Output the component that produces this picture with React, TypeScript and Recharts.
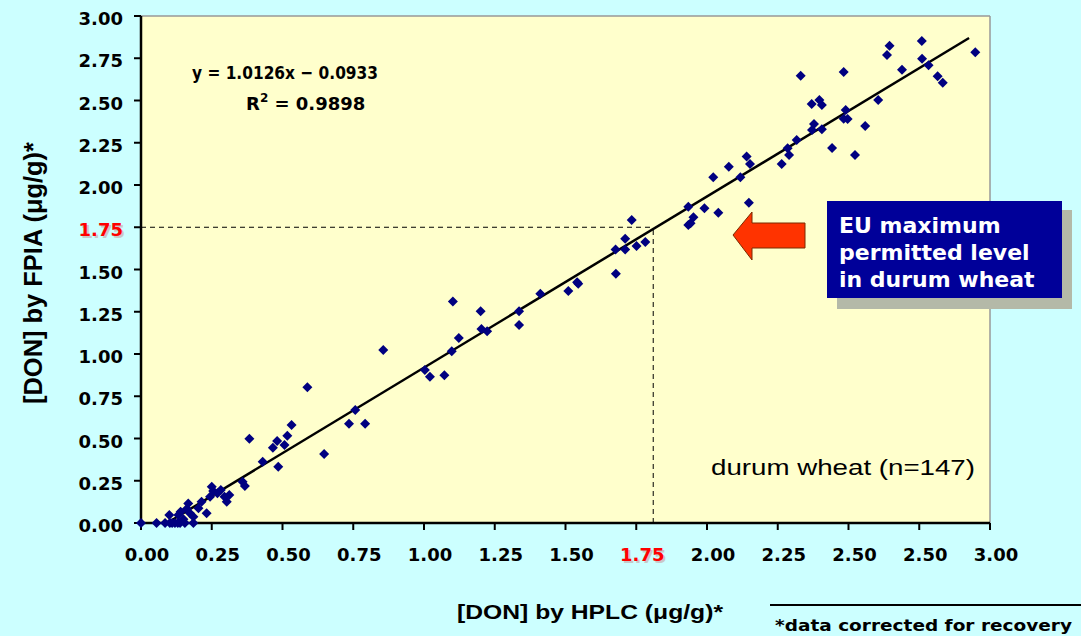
import React from 'react'
import { ScatterChart, Scatter, XAxis, YAxis, CartesianGrid, ReferenceLine } from 'recharts'

// [DON] by HPLC (x) vs [DON] by FPIA (y), durum wheat samples
const hplc = [
  0, 0.055, 0.085, 0.1, 0.102, 0.11, 0.12, 0.13, 0.138, 0.132, 0.14, 0.15, 0.155, 0.162, 0.167, 0.173,
  0.185, 0.185, 0.203, 0.214, 0.232, 0.244, 0.25, 0.255, 0.27, 0.282, 0.295, 0.303, 0.312, 0.359,
  0.367, 0.383, 0.43, 0.466, 0.481, 0.485, 0.507, 0.517, 0.532, 0.588, 0.647, 0.735, 0.757, 0.792,
  0.856, 1.003, 1.021, 1.072, 1.098, 1.102, 1.123, 1.2, 1.203, 1.223, 1.336, 1.336, 1.411, 1.51,
  1.541, 1.545, 1.678, 1.677, 1.711, 1.711, 1.734, 1.751, 1.782, 1.934, 1.942, 1.952, 1.934, 1.991,
  2.04, 2.022, 2.077, 2.118, 2.14, 2.152, 2.148, 2.264, 2.29, 2.285, 2.317, 2.331, 2.37, 2.397,
  2.406, 2.371, 2.378, 2.406, 2.442, 2.483, 2.49, 2.483, 2.497, 2.523, 2.559, 2.605, 2.636, 2.645,
  2.689, 2.759, 2.76, 2.783, 2.815, 2.833, 2.948,
]
const fpia = [
  0, 0, 0, 0.047, 0, 0, 0, 0, 0, 0.047, 0.067, 0.022, 0, 0.085, 0.116, 0.057,
  0.037, 0, 0.087, 0.126, 0.057, 0.156, 0.215, 0.19, 0.176, 0.195, 0.156, 0.126, 0.166, 0.244,
  0.219, 0.499, 0.363, 0.446, 0.485, 0.333, 0.462, 0.517, 0.58, 0.803, 0.408, 0.588, 0.669, 0.588,
  1.024, 0.905, 0.866, 0.874, 1.016, 1.31, 1.095, 1.253, 1.148, 1.134, 1.253, 1.172, 1.357, 1.373,
  1.424, 1.415, 1.475, 1.619, 1.619, 1.682, 1.793, 1.639, 1.663, 1.763, 1.773, 1.809, 1.872, 1.862,
  1.836, 2.046, 2.108, 2.046, 2.168, 2.124, 1.895, 2.124, 2.178, 2.217, 2.266, 2.647, 2.479, 2.503,
  2.473, 2.325, 2.361, 2.33, 2.219, 2.669, 2.444, 2.392, 2.391, 2.178, 2.349, 2.503, 2.769, 2.824,
  2.682, 2.852, 2.747, 2.708, 2.643, 2.605, 2.785,
]

// trend line end points (y = 1.0126x - 0.0933)
const trendX = [0.092, 2.926]
const trendY = [0, 2.87]

// EU limit guide lines
const limitY = 1.75
const limitX = 1.81

const axisTicks = [0, 0.25, 0.5, 0.75, 1, 1.25, 1.5, 1.75, 2, 2.25, 2.5, 2.75, 3]
const xTickLabels = ['0.00', '0.25', '0.50', '0.75', '1.00', '1.25', '1.50', '1.75', '2.00', '2.25', '2.50', '2.50', '3.00']
const yTickLabels = ['0.00', '0.25', '0.50', '0.75', '1.00', '1.25', '1.50', '1.75', '2.00', '2.25', '2.50', '2.75', '3.00']

const points = hplc.map((x, i) => ({ x, y: fpia[i] }))

const tickFont = { fontFamily: '"DejaVu Sans", Verdana, sans-serif', fontWeight: 'bold', fontSize: 18 }
const verdanaBold = { fontFamily: '"DejaVu Sans", Verdana, sans-serif', fontWeight: 'bold' as const }

const TickText = ({ x, y, label, anchor }: any) => {
  const red = label === '1.75'
  return (
    <g>
      {red && (
        <text x={x + 2} y={y + 2} textAnchor={anchor} fill="#c8c8c8" style={tickFont}>
          {label}
        </text>
      )}
      <text x={x} y={y} textAnchor={anchor} fill={red ? '#ff0000' : '#000'} style={tickFont}>
        {label}
      </text>
    </g>
  )
}

const XTick = (props: any) => {
  const idx = axisTicks.indexOf(props.payload.value)
  return <TickText x={props.x + 6} y={props.y + 29} label={xTickLabels[idx]} anchor="middle" />
}

const YTick = (props: any) => {
  const idx = axisTicks.indexOf(props.payload.value)
  return <TickText x={props.x - 9} y={props.y + 9} label={yTickLabels[idx]} anchor="end" />
}

const Diamond = (props: any) => {
  const { cx, cy } = props
  if (cx == null || cy == null) return null
  const r = 5
  return <polygon points={`${cx},${cy - r} ${cx + r},${cy} ${cx},${cy + r} ${cx - r},${cy}`} fill="#000080" />
}

export default function App() {
  return (
    <div style={{ position: 'absolute', left: 0, top: 0, width: 1081, height: 636, background: '#ccffff', overflow: 'hidden' }}>
      <ScatterChart width={1081} height={636} margin={{ top: 16, right: 91, bottom: 0, left: 0 }}>
        <CartesianGrid horizontal={false} vertical={false} fill="#ffffcc" />
        <XAxis
          type="number"
          dataKey="x"
          domain={[0, 3]}
          ticks={axisTicks}
          interval={0}
          height={113}
          tickSize={7}
          axisLine={{ stroke: '#000', strokeWidth: 2.5 }}
          tickLine={{ stroke: '#000', strokeWidth: 2 }}
          tick={<XTick />}
        />
        <YAxis
          type="number"
          dataKey="y"
          domain={[0, 3]}
          ticks={axisTicks}
          interval={0}
          width={141}
          tickSize={7}
          axisLine={{ stroke: '#000', strokeWidth: 2.5 }}
          tickLine={{ stroke: '#000', strokeWidth: 2 }}
          tick={<YTick />}
        />
        <ReferenceLine y={3} stroke="#999" strokeWidth={1.5} />
        <ReferenceLine x={3} stroke="#999" strokeWidth={1.5} />
        <ReferenceLine
          segment={[{ x: 0, y: limitY }, { x: limitX, y: limitY }]}
          stroke="#000"
          strokeWidth={1}
          strokeDasharray="5 4"
        />
        <ReferenceLine
          segment={[{ x: limitX, y: 0 }, { x: limitX, y: limitY }]}
          stroke="#000"
          strokeWidth={1}
          strokeDasharray="5 4"
        />
        <Scatter data={points} shape={<Diamond />} isAnimationActive={false} />
        <ReferenceLine
          segment={[{ x: trendX[0], y: trendY[0] }, { x: trendX[1], y: trendY[1] }]}
          stroke="#000"
          strokeWidth={2.5}
        />
      </ScatterChart>

      <svg width={1081} height={636} style={{ position: 'absolute', left: 0, top: 0, pointerEvents: 'none' }}>
        {/* regression equation */}
        <text x={192} y={79} textLength={186} lengthAdjust="spacingAndGlyphs" style={{ ...verdanaBold, fontSize: 18 }}>
          y = 1.0126x − 0.0933
        </text>
        <text x={246} y={110} style={{ ...verdanaBold, fontSize: 18 }}>
          R<tspan dy={-8} fontSize={12}>2</tspan><tspan dy={8}> = 0.9898</tspan>
        </text>

        <text x={711} y={475} textLength={264} lengthAdjust="spacingAndGlyphs"
          style={{ fontFamily: '"Liberation Sans", Arial, sans-serif', fontSize: 22 }}>
          durum wheat (n=147)
        </text>

        {/* axis titles */}
        <text x={457} y={619} textLength={266} lengthAdjust="spacingAndGlyphs"
          style={{ fontFamily: '"Liberation Sans", Arial, sans-serif', fontWeight: 'bold', fontSize: 21 }}>
          [DON] by HPLC (μg/g)*
        </text>
        <g transform="translate(42,273) scale(1.25,1) rotate(-90)">
          <text x={0} y={0} textAnchor="middle" textLength={262} lengthAdjust="spacingAndGlyphs"
            style={{ fontFamily: '"Liberation Sans", Arial, sans-serif', fontWeight: 'bold', fontSize: 21 }}>
            [DON] by FPIA (μg/g)*
          </text>
        </g>

        {/* footnote */}
        <line x1={770} y1={605} x2={1081} y2={605} stroke="#000" strokeWidth={2} />
        <text x={775} y={631} textLength={297} lengthAdjust="spacingAndGlyphs" style={{ ...verdanaBold, fontSize: 16 }}>
          *data corrected for recovery
        </text>

        {/* red arrow */}
        <polygon points="733,235 752,212 752,223 805,223 805,248 752,248 752,260"
          fill="#ff3300" stroke="#7a2a00" strokeWidth={1} />

        {/* EU limit box */}
        <rect x={837} y={210} width={235} height={99} fill="#b4b9a8" />
        <rect x={827} y={201} width={235} height={97} fill="#000099" />
        <g style={{ ...verdanaBold, fontSize: 22 }} fill="#fff">
          <text x={839} y={233}>EU maximum</text>
          <text x={839} y={260}>permitted level</text>
          <text x={839} y={287}>in durum wheat</text>
        </g>
      </svg>
    </div>
  )
}
